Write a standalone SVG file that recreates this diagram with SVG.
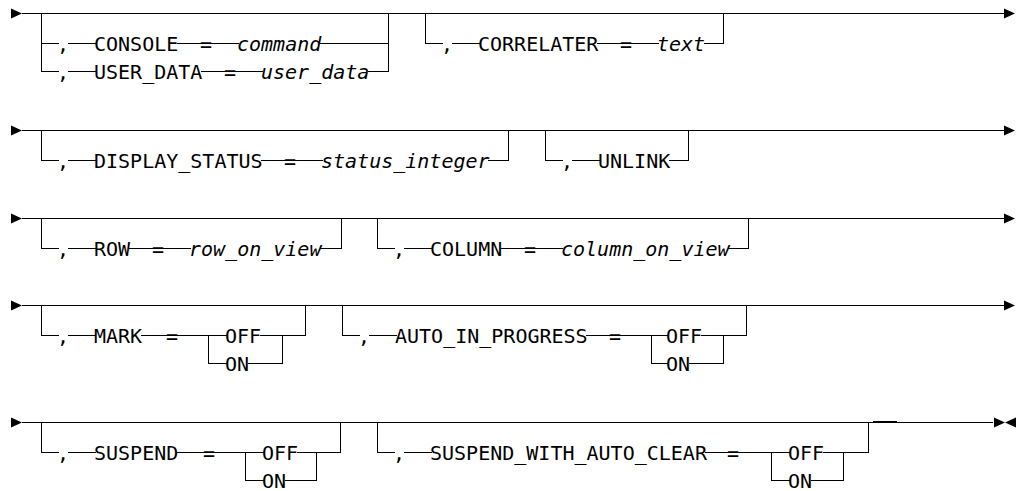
<svg xmlns="http://www.w3.org/2000/svg" width="1018" height="491" viewBox="0 0 1018 491">
<defs>
<style>
.ln{fill:none;stroke:#000;stroke-width:1;shape-rendering:crispEdges}
.t{font-family:"DejaVu Sans Mono","Liberation Mono",monospace;font-size:20px;fill:#000}
.v{font-style:italic}
.ah{fill:#000}
</style>
<path id="ar" d="M0,-5 L11,0 L0,5Z"/>
<path id="al" d="M0,0 L11,-5 L11,5Z"/>
</defs>
<rect width="1018" height="491" fill="#fff"/>
<g id="connectors">
<path class="ln" d="M22 13.5H1004 M22 130.5H1004 M22 218.5H1004 M22 305.5H1004 M22 422.5H993 M873 421.5H897"/>
<path class="ln" d="M41.5 13.5V71.5H58.5 M41.5 43.5H58.5 M67.5 43.5H95.5 M176.5 43.5H201.5 M210.5 43.5H238.5 M320 43.5H388.5 M67.5 71.5H95.5 M200.5 71.5H225.5 M234.5 71.5H262.5 M368 71.5H388.5 M388.5 13.5V71.5"/>
<path class="ln" d="M425.5 13.5V43.5H442.5 M451.5 43.5H479.5 M596.5 43.5H621.5 M630.5 43.5H658.5 M704 43.5H723.5V13.5"/>
<path class="ln" d="M41.5 130.5V160.5H58.5 M67.5 160.5H95.5 M260.5 160.5H285.5 M294.5 160.5H322.5 M488 160.5H508.5V130.5"/>
<path class="ln" d="M545.5 130.5V160.5H562.5 M571.5 160.5H599.5 M668.5 160.5H688.5V130.5"/>
<path class="ln" d="M41.5 218.5V248.5H58.5 M67.5 248.5H95.5 M128.5 248.5H153.5 M162.5 248.5H190.5 M320 248.5H341.5V218.5"/>
<path class="ln" d="M377.5 218.5V248.5H394.5 M403.5 248.5H431.5 M500.5 248.5H525.5 M534.5 248.5H562.5 M728 248.5H748.5V218.5"/>
<path class="ln" d="M41.5 305.5V335.5H58.5 M67.5 335.5H95.5 M140.5 335.5H167.5 M176.5 335.5H226.5 M259.5 335.5H305.5V305.5 M208.5 335.5V363.5H226.5 M247.5 363.5H282.5V335.5"/>
<path class="ln" d="M342.5 305.5V335.5H359.5 M368.5 335.5H396.5 M585.5 335.5H610.5 M619.5 335.5H667.5 M700.5 335.5H746.5V305.5 M651.5 335.5V363.5H667.5 M688.5 363.5H723.5V335.5"/>
<path class="ln" d="M41.5 422.5V452.5H58.5 M67.5 452.5H95.5 M176.5 452.5H204.5 M213.5 452.5H263.5 M296.5 452.5H340.5V422.5 M245.5 452.5V480.5H263.5 M284.5 480.5H316.5V452.5"/>
<path class="ln" d="M377.5 422.5V452.5H394.5 M403.5 452.5H431.5 M704.5 452.5H728.5 M737.5 452.5H789.5 M822.5 452.5H868.5V422.5 M771.5 452.5V480.5H789.5 M810.5 480.5H843.5V452.5"/>
<use href="#ar" class="ah" x="11" y="13.5"/>
<use href="#ar" class="ah" x="1004" y="13.5"/>
<use href="#ar" class="ah" x="11" y="130.5"/>
<use href="#ar" class="ah" x="1004" y="130.5"/>
<use href="#ar" class="ah" x="11" y="218.5"/>
<use href="#ar" class="ah" x="1004" y="218.5"/>
<use href="#ar" class="ah" x="11" y="305.5"/>
<use href="#ar" class="ah" x="1004" y="305.5"/>
<use href="#ar" class="ah" x="11" y="422.5"/>
<use href="#ar" class="ah" x="994" y="422.5"/>
<use href="#al" class="ah" x="1005" y="422.5"/>
</g>
<g id="console-user-data" class="t">
<text x="57" y="50.5">,</text><text x="94" y="50.5">CONSOLE</text><text x="200" y="50.5">=</text><text x="237" y="50.5" class="v">command</text>
<text x="57" y="78.5">,</text><text x="94" y="78.5">USER_DATA</text><text x="224" y="78.5">=</text><text x="261" y="78.5" class="v">user_data</text>
</g>
<g id="correlater" class="t">
<text x="441" y="50.5">,</text><text x="478" y="50.5">CORRELATER</text><text x="620" y="50.5">=</text><text x="657" y="50.5" class="v">text</text>
</g>
<g id="display-status" class="t">
<text x="57" y="167.5">,</text><text x="94" y="167.5">DISPLAY_STATUS</text><text x="284" y="167.5">=</text><text x="321" y="167.5" class="v">status_integer</text>
</g>
<g id="unlink" class="t">
<text x="561" y="167.5">,</text><text x="598" y="167.5">UNLINK</text>
</g>
<g id="row" class="t">
<text x="57" y="255.5">,</text><text x="94" y="255.5">ROW</text><text x="152" y="255.5">=</text><text x="189" y="255.5" class="v">row_on_view</text>
</g>
<g id="column" class="t">
<text x="393" y="255.5">,</text><text x="430" y="255.5">COLUMN</text><text x="524" y="255.5">=</text><text x="561" y="255.5" class="v">column_on_view</text>
</g>
<g id="mark" class="t">
<text x="57" y="342.5">,</text><text x="94" y="342.5">MARK</text><text x="166" y="342.5">=</text><text x="225" y="342.5">OFF</text><text x="225" y="370.5">ON</text>
</g>
<g id="auto-in-progress" class="t">
<text x="358" y="342.5">,</text><text x="395" y="342.5">AUTO_IN_PROGRESS</text><text x="609" y="342.5">=</text><text x="666" y="342.5">OFF</text><text x="666" y="370.5">ON</text>
</g>
<g id="suspend" class="t">
<text x="57" y="459.5">,</text><text x="94" y="459.5">SUSPEND</text><text x="203" y="459.5">=</text><text x="262" y="459.5">OFF</text><text x="262" y="487.5">ON</text>
</g>
<g id="suspend-with-auto-clear" class="t">
<text x="393" y="459.5">,</text><text x="430" y="459.5">SUSPEND_WITH_AUTO_CLEAR</text><text x="727" y="459.5">=</text><text x="788" y="459.5">OFF</text><text x="788" y="487.5">ON</text>
</g>
</svg>
